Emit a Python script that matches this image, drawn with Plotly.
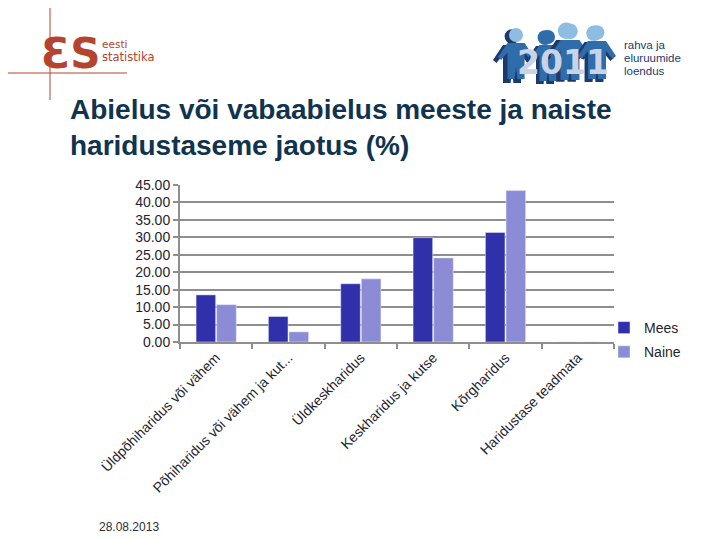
import plotly.graph_objects as go

categories = [
    "Üldpõhiharidus või vähem",
    "Põhiharidus või vähem ja kut...",
    "Üldkeskharidus",
    "Keskharidus ja kutse",
    "Kõrgharidus",
    "Haridustase teadmata",
]
mees = [13.5, 7.3, 16.7, 29.9, 31.4, 0.0]
naine = [10.7, 2.9, 18.1, 24.1, 43.4, 0.0]
y_ticks = [0, 5, 10, 15, 20, 25, 30, 35, 40, 45]

# the page body has an 8px margin; compensate so the picture lines up
O = 8
W, H = 720 - O, 540 - O
L, T = 180 - O, 185 - O
PW, PH = 434, 157
R, B = W - L - PW, H - T - PH


def PX(x):
    return (x - O - L) / PW


def PY(y):
    return (T + PH - (y - O)) / PH


fig = go.Figure()
fig.add_trace(go.Bar(name="Mees", x=categories, y=mees, marker_color="#3030AA",
                     legendgroup="a"))
fig.add_trace(go.Bar(name="Naine", x=categories, y=naine, marker_color="#8C8CD6",
                     legendgroup="b"))

axis_font = dict(family="Liberation Sans, Arial, sans-serif", size=14, color="#1f2430")
grid_col = "#8E8E8E"

fig.update_layout(
    width=W, height=H,
    margin=dict(l=L, r=R, t=T, b=B, autoexpand=False),
    paper_bgcolor="white", plot_bgcolor="white",
    barmode="group", bargap=0.43, bargroupgap=0.05,
    showlegend=True,
    legend=dict(x=PX(604), y=PY(312), xanchor="left", yanchor="top",
                font=axis_font, traceorder="grouped", tracegroupgap=3,
                itemwidth=30, bgcolor="rgba(0,0,0,0)"),
    xaxis=dict(tickangle=-45, tickfont=axis_font, showline=True, linecolor=grid_col,
               linewidth=2, ticks="outside", tickson="boundaries", ticklen=5,
               tickcolor=grid_col, tickwidth=2, showgrid=False),
    yaxis=dict(range=[0, 45], tickvals=y_ticks, tickformat=".2f", tickfont=axis_font,
               showline=True, linecolor=grid_col, linewidth=2, ticks="outside",
               ticklen=5, tickcolor=grid_col, tickwidth=2, showgrid=True,
               gridcolor=grid_col, gridwidth=2, zeroline=False),
    hovermode=False,
)

shapes = []
annotations = []

# Title
annotations.append(dict(
    text="<b>Abielus või vabaabielus meeste ja naiste<br>haridustaseme jaotus (%)</b>",
    x=PX(68), y=PY(92), xref="paper", yref="paper", xanchor="left", yanchor="top",
    align="left", showarrow=False,
    font=dict(family="Liberation Sans, Arial, sans-serif", size=28, color="#10344F")))

# Date
annotations.append(dict(
    text="28.08.2013", x=PX(97), y=PY(527), xref="paper", yref="paper",
    xanchor="left", yanchor="middle", showarrow=False,
    font=dict(family="Liberation Sans, Arial, sans-serif", size=12, color="#2a2f38")))

# Left logo (Statistics Estonia)
red = "#B5442E"
shapes.append(dict(type="line", xref="paper", yref="paper", x0=PX(50), x1=PX(50),
                   y0=PY(O), y1=PY(100), line=dict(color=red, width=1)))
shapes.append(dict(type="line", xref="paper", yref="paper", x0=PX(O), x1=PX(127),
                   y0=PY(73), y1=PY(73), line=dict(color=red, width=1)))
annotations.append(dict(
    text="<b>ƐS</b>", x=PX(39), y=PY(53), xref="paper", yref="paper", xanchor="left",
    yanchor="middle", showarrow=False,
    font=dict(family="DejaVu Sans, sans-serif", size=42, color=red)))
annotations.append(dict(
    text="eesti", x=PX(100), y=PY(44), xref="paper", yref="paper", xanchor="left",
    yanchor="middle", showarrow=False,
    font=dict(family="DejaVu Sans, sans-serif", size=10.5, color=red)))
annotations.append(dict(
    text="statistika", x=PX(100), y=PY(57), xref="paper", yref="paper", xanchor="left",
    yanchor="middle", showarrow=False,
    font=dict(family="DejaVu Sans, sans-serif", size=11.5, color=red)))

# Right logo (census 2011): stylised people
POLY = [(-0.45, 0), (0.45, 0), (0.95, 0.75), (0.78, 0.9), (0.45, 0.5), (0.45, 1.9),
        (0.07, 1.9), (0, 1.25), (-0.07, 1.9), (-0.45, 1.9), (-0.45, 0.5),
        (-0.78, 0.9), (-0.95, 0.75)]


def person(cx, sy, s, body, head):
    pts = [(PX(cx + dx * s), PY(sy + dy * s)) for dx, dy in POLY]
    path = "M " + " L ".join(f"{a:.5f},{b:.5f}" for a, b in pts) + " Z"
    shapes.append(dict(type="path", xref="paper", yref="paper", path=path,
                       fillcolor=body, line=dict(width=0)))
    r = 0.37 * s
    hy = sy - 0.42 * s
    shapes.append(dict(type="circle", xref="paper", yref="paper",
                       x0=PX(cx - r), x1=PX(cx + r), y0=PY(hy - r), y1=PY(hy + r),
                       fillcolor=head, line=dict(width=0)))


navy, mid, light = "#1E3A6C", "#2E6DA9", "#8DBDE3"
person(512, 45, 20, navy, navy)
person(516, 43, 19, mid, light)
person(545, 46, 20, navy, mid)
person(548, 45, 19, mid, mid)
person(566, 40, 22, navy, light)
person(570, 40, 21, mid, light)
person(594, 42, 21, navy, light)
person(597, 41, 20, mid, light)
annotations.append(dict(
    text="<b>2011</b>", x=PX(563), y=PY(63), xref="paper", yref="paper",
    xanchor="center", yanchor="middle", showarrow=False,
    font=dict(family="DejaVu Sans, sans-serif", size=33, color="#C9D3E6")))

navy_txt = "#1B3B6B"
for i, line in enumerate(["rahva ja", "eluruumide", "loendus"]):
    annotations.append(dict(
        text=line, x=PX(622), y=PY(45 + 13 * i), xref="paper", yref="paper",
        xanchor="left", yanchor="middle", showarrow=False,
        font=dict(family="Liberation Sans, Arial, sans-serif", size=11.5, color=navy_txt)))

fig.update_layout(shapes=shapes, annotations=annotations)

fig.write_html("out.html", config={"displayModeBar": False})
